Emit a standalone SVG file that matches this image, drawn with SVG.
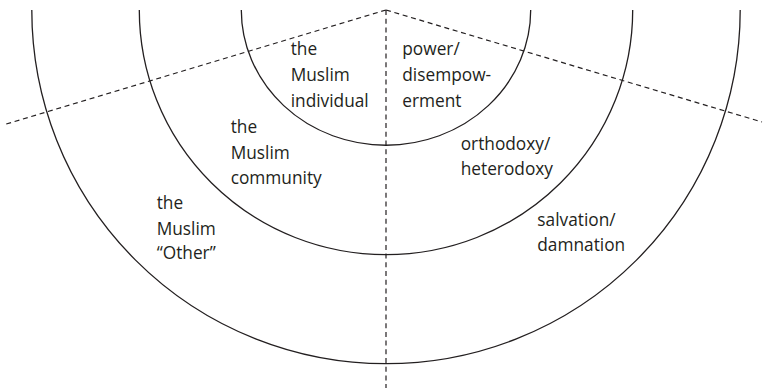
<svg xmlns="http://www.w3.org/2000/svg" width="763" height="390" viewBox="0 0 763 390">
<style>
.arc{fill:none;stroke:#231f20;stroke-width:1.3}
.dash{fill:none;stroke:#231f20;stroke-width:1.2;stroke-dasharray:5 3.7}
text{font-family:"Open Sans","Noto Sans","Liberation Sans",sans-serif;font-size:17.3px;fill:#231f20}
</style>
<rect width="763" height="390" fill="#ffffff"/>
<g id="rings">
<path id="ring-inner" class="arc" d="M241.3,10 A144.7,135.3 0 0 0 530.7,10"/>
<path id="ring-middle" class="arc" d="M139.3,10 A246.7,244.7 0 0 0 632.7,10"/>
<path id="ring-outer" class="arc" d="M31.8,10 A354.2,353.7 0 0 0 740.2,10"/>
</g>
<g id="connectors">
<path class="dash" d="M386,10 L386,388"/>
<path class="dash" d="M386,10 L3,125"/>
<path class="dash" d="M386,10 L762,122"/>
</g>
<g id="node-individual">
<text x="290.7" y="55">the</text>
<text x="290.7" y="81.3">Muslim</text>
<text x="290.7" y="106.7">individual</text>
</g>
<g id="node-power">
<text x="402.3" y="55">power/</text>
<text x="402.3" y="81.3">disempow-</text>
<text x="402.3" y="106.7">erment</text>
</g>
<g id="node-community">
<text x="230.7" y="133.3">the</text>
<text x="230.7" y="159.3">Muslim</text>
<text x="230.7" y="184">community</text>
</g>
<g id="node-orthodoxy">
<text x="460.7" y="150">orthodoxy/</text>
<text x="460.7" y="175">heterodoxy</text>
</g>
<g id="node-other">
<text x="156.7" y="209">the</text>
<text x="156.7" y="235">Muslim</text>
<text x="156.7" y="259.3">“Other”</text>
</g>
<g id="node-salvation">
<text x="537.3" y="226">salvation/</text>
<text x="537.3" y="250.7">damnation</text>
</g>
</svg>
